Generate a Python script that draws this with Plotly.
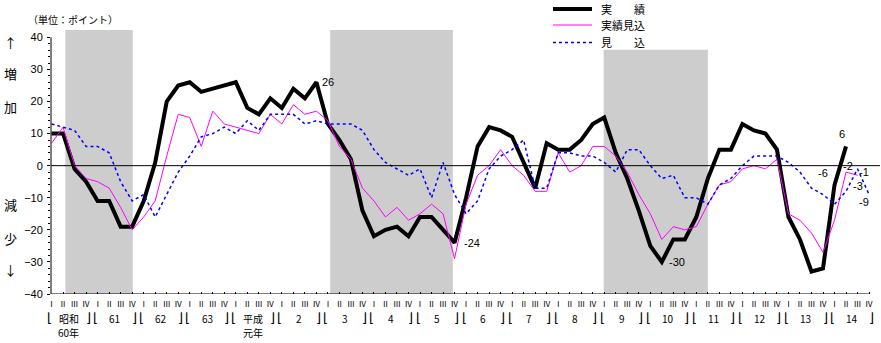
import plotly.graph_objects as go

# ---- data -------------------------------------------------------------
# Quarterly BSI (points), 昭和60年 I  ->  平成14年 IV
quarters = ["Ⅰ", "Ⅱ", "Ⅲ", "Ⅳ"]
year_labels = ["昭和", "61", "62", "63", "平成", "2", "3", "4", "5",
               "6", "7", "8", "9", "10", "11", "12", "13", "14"]
era_labels = {0: "60年", 4: "元年"}

actual = [10, 10, -1, -5, -11, -11, -19, -19, -11, 1,
          20, 25, 26, 23, 24, 25, 26, 18, 16, 21,
          18, 24, 21, 26, 13, 8, 2, -14, -22, -20,
          -19, -22, -16, -16, -20, -24, -10, 6, 12, 11,
          9, 1, -7, 7, 5, 5, 8, 13, 15, 4,
          -4, -14, -25, -30, -23, -23, -16, -4, 5, 5,
          13, 11, 10, 5, -16, -23, -33, -32, -6, 6]

estimated = [7, 12, 0, -4, -5, -7, -13, -20, -16, -11,
             3, 16, 15, 6, 17, 13, 12, 11, 10, 16,
             13, 19, 16, 17, 14, 6, 2, -7, -11, -16,
             -13, -17, -15, -12, -15, -29, -12, -3, 0, 5,
             0, -3, -8, -8, 4, -2, 0, 6, 6, 3,
             -2, -9, -15, -23, -19, -20, -19, -12, -6, -5,
             -1, 0, -1, 2, -15, -17, -21, -27, -17, -2,
             -3]

forecast = [13, 12, 11, 6, 6, 4, -5, -11, -9, -16,
            -9, -2, 3, 9, 10, 12, 10, 14, 11, 16,
            16, 16, 13, 14, 13, 13, 13, 11, 5, 1,
            -1, -3, -1, -10, 1, -9, -15, -11, -1, 3,
            5, 8, -7, -7, 4, 4, 3, 3, 1, -2,
            5, 5, 0, -4, -3, -10, -10, -12, -6, -4,
            0, 3, 3, 3, 1, -2, -7, -9, -12, -8,
            -1, -9]

# recession periods (quarter positions) and the top of each band
recessions = [(1.2, 7.05, 42.3), (24.2, 34.85, 42.3), (47.95, 57.0, 36.1)]

series_names = ["実　　績", "実績見込", "見　　込"]

# ---- layout geometry --------------------------------------------------
W, H = 881, 343
L, R, T, B = 51, 1, 29, 48.5
PW, PH = W - L - R, H - T - B
X_MIN, X_MAX = -0.05, 71.95
Y_MIN, Y_MAX = -40, 42.6

JP = "Noto Sans CJK JP"
NUM = "Liberation Sans"


def px_x(px):
    return (px - L) / PW


def px_y(py):
    return (H - B - py) / PH


styles = [dict(color="black", width=4),
          dict(color="#ff00ff", width=1),
          dict(color="#0000ff", width=1.5, dash="3px,3px")]

fig = go.Figure()
for name, vals, st in zip(series_names, [actual, estimated, forecast], styles):
    fig.add_trace(go.Scatter(x=list(range(len(vals))), y=vals, mode="lines",
                             name=name, line=st, showlegend=False))

shapes = []
for x0, x1, top in recessions:
    shapes.append(dict(type="rect", xref="x", yref="y", x0=x0, x1=x1,
                       y0=Y_MIN, y1=top, fillcolor="#cdcdcd",
                       line=dict(width=0), layer="below"))
# zero line, y axis and x axis
shapes.append(dict(type="line", xref="paper", yref="y", x0=0, x1=1, y0=0, y1=0,
                   line=dict(color="black", width=1)))
shapes.append(dict(type="line", xref="paper", yref="y", x0=0, x1=0, y0=-40, y1=40,
                   line=dict(color="black", width=1)))
shapes.append(dict(type="line", xref="x", yref="y", x0=X_MIN, x1=71, y0=-40, y1=-40,
                   line=dict(color="black", width=1)))

annotations = []

# custom legend
legend_rows = [9, 25, 42.5]
for name, st, ry in zip(series_names, styles, legend_rows):
    shapes.append(dict(type="line", xref="paper", yref="paper",
                       x0=px_x(553), x1=px_x(592), y0=px_y(ry), y1=px_y(ry),
                       line=st))
    annotations.append(dict(text=name, xref="paper", yref="paper",
                            x=px_x(600), y=px_y(ry), xanchor="left",
                            yanchor="middle", showarrow=False, borderpad=0,
                            font=dict(family=JP, size=11, color="black")))

# unit note and side captions
annotations.append(dict(text="（単位：ポイント）", xref="paper", yref="paper",
                        x=px_x(73), y=px_y(19), xanchor="center", yanchor="middle",
                        showarrow=False, font=dict(family=JP, size=10, color="black")))
for txt, py in [("↑", 43), ("増", 74), ("加", 107), ("減", 205), ("少", 239), ("↓", 270)]:
    annotations.append(dict(text=txt, xref="paper", yref="paper",
                            x=px_x(10), y=px_y(py), xanchor="center", yanchor="middle",
                            showarrow=False, font=dict(family=JP, size=13, color="black")))

# year brackets under the quarter ticks
for k, lab in enumerate(year_labels):
    q0 = 4 * k
    annotations.append(dict(text="⌊", xref="x", yref="paper", x=q0, y=px_y(318),
                            xanchor="center", yanchor="middle", xshift=-2,
                            showarrow=False, font=dict(family="DejaVu Sans", size=13, color="black")))
    annotations.append(dict(text="⌋", xref="x", yref="paper", x=q0 + 3, y=px_y(318),
                            xanchor="center", yanchor="middle", xshift=2,
                            showarrow=False, font=dict(family="DejaVu Sans", size=13, color="black")))
    annotations.append(dict(text=lab, xref="x", yref="paper", x=q0 + 1.5, y=px_y(319),
                            xanchor="center", yanchor="middle", showarrow=False,
                            font=dict(family=JP, size=10, color="black")))
    if k in era_labels:
        annotations.append(dict(text=era_labels[k], xref="x", yref="paper", x=q0 + 1.5,
                                y=px_y(333), xanchor="center", yanchor="middle",
                                showarrow=False, font=dict(family=JP, size=10, color="black")))

# value labels
value_labels = [(actual, 23, 12, 0), (actual, 35, 17, 0), (actual, 53, 15, 0),
                (actual, 68, -12, 12), (actual, 69, -4, 12),
                (estimated, 69, 2, 6), (estimated, 70, 0, -11),
                (forecast, 70, 6, -3), (forecast, 71, -5, -7)]
for vals, i, dx, dy in value_labels:
    annotations.append(dict(text=str(vals[i]), xref="x", yref="y", x=i, y=vals[i],
                            xanchor="center", yanchor="middle", xshift=dx, yshift=dy,
                            showarrow=False,
                            font=dict(family=NUM, size=11, color="black")))

fig.update_layout(
    width=W, height=H,
    margin=dict(l=L, r=R, t=T, b=B, pad=0),
    paper_bgcolor="white", plot_bgcolor="white",
    showlegend=False,
    shapes=shapes, annotations=annotations,
    xaxis=dict(range=[X_MIN, X_MAX], tickmode="array",
               tickvals=list(range(72)),
               ticktext=[quarters[i % 4] for i in range(72)],
               ticks="inside", ticklen=2, tickcolor="black",
               ticklabelstandoff=4,
               tickfont=dict(family=JP, size=8, color="black"),
               showgrid=False, zeroline=False, showline=False),
    yaxis=dict(range=[Y_MIN, Y_MAX], tickmode="array",
               tickvals=list(range(-40, 41, 10)),
               ticks="outside", ticklen=3, tickcolor="black",
               minor=dict(tickvals=list(range(-40, 41, 2)), ticks="outside",
                          ticklen=2, tickcolor="black"),
               ticklabelstandoff=2,
               tickfont=dict(family=NUM, size=11, color="black"),
               showgrid=False, zeroline=False, showline=False),
)

fig.write_html("out.html")
